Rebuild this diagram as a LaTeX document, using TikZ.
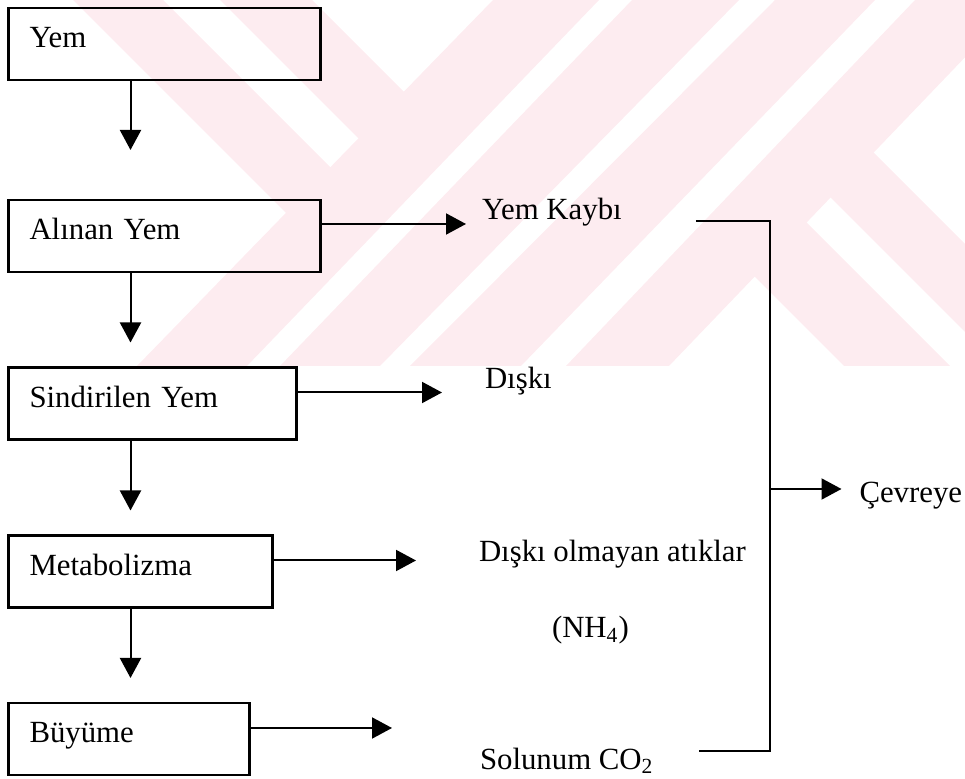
\documentclass[tikz,border=0pt]{standalone}
\usepackage{fontspec}
\setmainfont{Liberation Serif}
\usepackage{tikz}
\usetikzlibrary{positioning, arrows.meta}
\definecolor{watermark}{RGB}{253,236,240}
\tikzstyle{stage} = [
    rectangle,
    draw,
    line width = 1.2pt,
    align = left,
    inner xsep = 10.5pt,
    outer sep = 0pt,
    minimum height = 36pt,
    text height = 10pt,
    text depth = 6pt
]
\tikzstyle{loss} = [
    inner sep = 0pt,
    outer sep = 0pt,
    anchor = base west
]
\tikzstyle{flow} = [
    line width = 1pt,
    -{Triangle[length = 10pt, width = 10.5pt]}
]
\tikzstyle{collector} = [
    line width = 1pt
]

\begin{document}
\begin{tikzpicture}[x = 0.5pt, y = -0.5pt, font = \fontsize{15.4pt}{18pt}\selectfont]

    \useasboundingbox (0,0) rectangle (965,779);

    % watermark
    \begin{scope}
        \clip (0,0) rectangle (965,366);
        \fill[watermark] (73,0) -- (163,0) -- (335,172) -- (291,218) -- cycle;
        \fill[watermark] (220,0) -- (312,0) -- (409,97) -- (363,143) -- cycle;
        \fill[watermark] (493,0) -- (599,0) -- (247,366) -- (137,366) -- cycle;
        \fill[watermark] (632,0) -- (739,0) -- (380,366) -- (280,366) -- cycle;
        \fill[watermark] (775,0) -- (875,0) -- (521,366) -- (410,366) -- cycle;
        \fill[watermark] (915,0) -- (1020,0) -- (669,366) -- (566,366) -- cycle;
        \fill[watermark] (868,147) -- (1100,379) -- (1100,467) -- (825,192) -- cycle;
        \fill[watermark] (801,217) -- (1100,516) -- (1100,622) -- (750,272) -- cycle;
    \end{scope}

    % Yem
    \node [stage, text width = 135pt, anchor = north west] (yem) at (8.5,8) {Yem};

    % Alinan Yem
    \node [stage, text width = 135pt, below = 60pt of yem.south west, anchor = north west] (alinan) {Alınan Yem};
    \node [loss] (kayip) at ([xshift = 80.75pt, yshift = 8pt]alinan.east) {Yem Kaybı};

    % Sindirilen Yem
    \node [stage, text width = 123pt, below = 47.75pt of alinan.south west, anchor = north west] (sindirilen) {Sindirilen Yem};
    \node [loss] (diski) at ([xshift = 94.25pt, yshift = 7.25pt]sindirilen.east) {Dışkı};

    % Metabolizma
    \node [stage, text width = 111pt, below = 48pt of sindirilen.south west, anchor = north west] (metabolizma) {Metabolizma};
    \node [loss] (olmayan) at ([xshift = 103.25pt, yshift = 4.75pt]metabolizma.east) {Dışkı olmayan atıklar};
    \node [loss] (nh4) at ([xshift = 36.5pt, yshift = -38pt]olmayan.base west) {(NH\textsubscript{4})};

    % Buyume
    \node [stage, text width = 99.5pt, below = 47.75pt of metabolizma.south west, anchor = north west] (buyume) {Büyüme};
    \node [loss] (solunum) at ([xshift = 115.25pt, yshift = -15.25pt]buyume.east) {Solunum CO\textsubscript{2}};

    % Cevreye
    \node [loss] (cevre) at ([xshift = 190.25pt, yshift = 29.5pt]olmayan.base west) {Çevreye};
    \coordinate (hub) at ([xshift = -45pt, yshift = 7pt]cevre.base west);
    \coordinate (kayipTail) at ([xshift = 37pt, yshift = -0.5pt]kayip.base east);
    \coordinate (solunumTail) at ([xshift = 22.5pt, yshift = 9pt]solunum.base east);

    % down
    \draw [flow, shorten > = 25pt] ([xshift = 61pt]yem.south west) -- ([xshift = 61pt]alinan.north west);
    \draw [flow, shorten > = 12.5pt] ([xshift = 61pt]alinan.south west) -- ([xshift = 61pt]sindirilen.north west);
    \draw [flow, shorten > = 12.5pt] ([xshift = 61pt]sindirilen.south west) -- ([xshift = 61pt]metabolizma.north west);
    \draw [flow, shorten > = 12.5pt] ([xshift = 61pt]metabolizma.south west) -- ([xshift = 61pt]buyume.north west);

    % right
    \draw [flow, shorten > = 8pt] ([yshift = 6pt]alinan.east) -- ([yshift = 6pt]alinan.east -| kayip.west);
    \draw [flow, shorten > = 21.5pt] ([yshift = 5.5pt]sindirilen.east) -- ([yshift = 5.5pt]sindirilen.east -| diski.west);
    \draw [flow, shorten > = 31.5pt] ([yshift = 5.5pt]metabolizma.east) -- ([yshift = 5.5pt]metabolizma.east -| olmayan.west);
    \draw [flow, shorten > = 44pt] ([yshift = 5.5pt]buyume.east) -- ([yshift = 5.5pt]buyume.east -| solunum.west);

    % to the environment
    \draw [collector] (kayipTail) -| (hub) |- (solunumTail);
    \draw [flow, shorten > = 9pt] (hub) -- (hub -| cevre.west);

\end{tikzpicture}
\end{document}
